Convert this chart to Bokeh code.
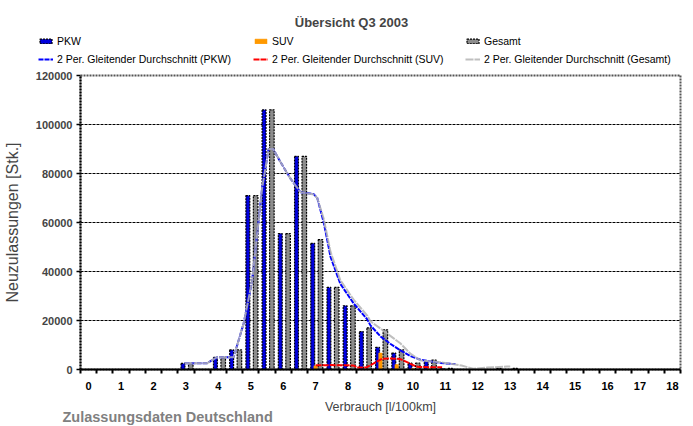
from bokeh.plotting import figure
from bokeh.models import FixedTicker, Label, Legend, LegendItem, ColumnDataSource, Title, Range1d
from bokeh.transform import dodge
from bokeh.layouts import column
from bokeh.embed import file_html
from bokeh.resources import INLINE

# ---- data ----
categories = [0, 0.5, 1, 1.5, 2, 2.5, 3, 3.5, 4, 4.5, 5, 5.5, 6, 6.5, 7, 7.5, 8, 8.5,
              9, 9.5, 10, 10.5, 11, 11.5, 12, 12.5, 13, 13.5, 14, 14.5, 15, 15.5,
              16, 16.5, 17, 17.5, 18]
pkw = [0, 0, 0, 0, 0, 0, 2500, 0, 5000, 8000, 71000, 106000, 55500, 87000, 51500,
       33500, 26000, 15500, 9000, 6700, 2600, 3300, 300, 0, 0, 0, 0, 0, 0, 0, 0, 0,
       0, 0, 0, 0, 0]
suv = [0, 0, 0, 0, 0, 0, 0, 0, 0, 0, 0, 0, 0, 0, 1500, 0, 0, 0, 6700, 2000, 400,
       300, 0, 0, 0, 0, 0, 0, 0, 0, 0, 0, 0, 0, 0, 0, 0]
gesamt = [0, 0, 0, 0, 0, 0, 2500, 0, 5000, 8000, 71000, 106000, 55500, 87000, 53000,
          33500, 26000, 17000, 16200, 8000, 2600, 3800, 500, 0, 0, 500, 500, 0, 0, 0,
          0, 0, 0, 0, 0, 0, 0]

# 2-period moving averages
ma_pkw_x = [2.96, 3.66, 3.96, 4.47, 4.78, 5.04, 5.35, 5.55, 5.69, 5.92, 6.22, 6.53,
            6.94, 7.05, 7.25, 7.46, 7.76, 8.17, 8.59, 8.69, 9.0, 9.3, 9.61, 9.92,
            10.23, 10.85, 11.16, 11.31]
ma_pkw_y = [2600, 2600, 5000, 5000, 18800, 36000, 74000, 90000, 90000, 84600, 78000,
            72400, 71600, 70000, 60000, 46000, 35000, 27000, 20500, 18000, 13500,
            10500, 7800, 5500, 4000, 2700, 2300, 2200]
ma_suv_x = [7.0, 7.5, 8.0, 8.17, 8.3, 8.55, 8.78, 9.05, 9.3, 9.6, 9.82, 10.08, 10.2,
            10.9]
ma_suv_y = [1700, 1800, 1700, 1600, 800, 800, 2400, 4400, 4500, 4300, 3000, 1300,
            1000, 900]
ma_ges_x = [2.96, 3.66, 3.96, 4.47, 4.78, 5.04, 5.35, 5.55, 5.69, 5.92, 6.22, 6.53,
            6.94, 7.05, 7.25, 7.46, 7.76, 8.17, 8.59, 8.69, 9.0, 9.61, 9.92, 10.23,
            10.85, 11.31, 11.5, 11.86, 12.29, 12.9, 13.0]
ma_ges_y = [2600, 2600, 5000, 5000, 18800, 36000, 74000, 90000, 90000, 84600, 78000,
            72400, 71400, 70000, 61500, 48000, 36500, 28500, 22000, 19700, 16700,
            10700, 6500, 3700, 3000, 2000, 1600, 300, 800, 1200, 1200]

x_ticks = list(range(0, 19))
y_ticks = [0, 20000, 40000, 60000, 80000, 100000, 120000]
y_tick_labels = ["0", "20000", "40000", "60000", "80000", "100000", "120000"]

FONT = "Liberation Sans"

PKW_STYLE = dict(fill_color="#0000DD", line_color="black", line_width=1.2, line_dash="2 1")
SUV_STYLE = dict(fill_color="#FF9900", line_color="#FF9900", line_width=0.5)
GES_STYLE = dict(fill_color="#8C8C8C", line_color="black", line_width=1.2, line_dash="2 1")
MA_PKW_STYLE = dict(line_color="#0000FF", line_width=2, line_dash="5 1")
MA_SUV_STYLE = dict(line_color="#FF0000", line_width=2, line_dash="6 1")
MA_GES_STYLE = dict(line_color="#B4B4B4", line_width=2, line_alpha=0.85, line_dash="8 1")

W = 693
HH = 70          # header height
MH = 426 - HH    # main chart height

# ---------------- header: title + legend ----------------
header = figure(width=W, height=HH, x_range=Range1d(0, W), y_range=Range1d(HH, 0),
                output_backend="svg", toolbar_location=None,
                x_axis_location=None, y_axis_location=None,
                min_border=0, min_border_left=0, min_border_right=0,
                min_border_top=0, min_border_bottom=0)
header.frame_align = False
header.outline_line_color = None
header.grid.visible = False
header.background_fill_color = "white"
header.border_fill_color = "white"

hsrc = ColumnDataSource(dict(cat=categories, pkw=pkw, suv=suv, ges=gesamt))
h_pkw = header.vbar(x="cat", top="pkw", width=0.1, source=hsrc, visible=False, **PKW_STYLE)
h_suv = header.vbar(x="cat", top="suv", width=0.1, source=hsrc, visible=False, **SUV_STYLE)
h_ges = header.vbar(x="cat", top="ges", width=0.1, source=hsrc, visible=False, **GES_STYLE)
h_mpkw = header.line(ma_pkw_x, ma_pkw_y, visible=False, **MA_PKW_STYLE)
h_msuv = header.line(ma_suv_x, ma_suv_y, visible=False, **MA_SUV_STYLE)
h_mges = header.line(ma_ges_x, ma_ges_y, visible=False, **MA_GES_STYLE)

def make_legend(items, loc):
    lg = Legend(items=items, location=loc, orientation="vertical",
                border_line_color=None, background_fill_alpha=0, padding=0, margin=0,
                spacing=6, glyph_width=15, glyph_height=6, label_standoff=4,
                label_height=10, label_text_font=FONT, label_text_font_size="10.5px",
                label_text_color="black", inactive_fill_alpha=0)
    header.add_layout(lg)

make_legend([LegendItem(label="PKW", renderers=[h_pkw]),
             LegendItem(label="2 Per. Gleitender Durchschnitt (PKW)", renderers=[h_mpkw])],
            (38, 5))
make_legend([LegendItem(label="SUV", renderers=[h_suv]),
             LegendItem(label="2 Per. Gleitender Durchschnitt (SUV)", renderers=[h_msuv])],
            (253, 5))
make_legend([LegendItem(label="Gesamt", renderers=[h_ges]),
             LegendItem(label="2 Per. Gleitender Durchschnitt (Gesamt)", renderers=[h_mges])],
            (465, 5))

header.add_layout(Label(x=351, y=22, text="Übersicht Q3 2003", text_font=FONT,
                        text_font_style="bold", text_font_size="13px",
                        text_align="center", text_baseline="middle"))

# ---------------- main chart ----------------
p = figure(width=W, height=MH, x_range=(-0.25, 18.25), y_range=(0, 120000),
           output_backend="svg", toolbar_location=None,
           min_border_left=80, min_border_right=13, min_border_top=75 - HH,
           min_border_bottom=57)
p.frame_align = False
p.background_fill_color = "white"
p.border_fill_color = "white"
p.outline_line_color = "#555555"
p.outline_line_dash = "2 1"
p.outline_line_width = 2

src = ColumnDataSource(dict(cat=categories, pkw=pkw, suv=suv, ges=gesamt))

p.vbar(x=dodge("cat", -0.09, range=p.x_range), top="pkw", width=0.12, source=src, **PKW_STYLE)
p.vbar(x=dodge("cat", 0.0, range=p.x_range), top="suv", width=0.11, source=src, **SUV_STYLE)
p.vbar(x=dodge("cat", 0.15, range=p.x_range), top="ges", width=0.14, source=src, **GES_STYLE)

p.line(ma_pkw_x, ma_pkw_y, **MA_PKW_STYLE)
p.line(ma_suv_x, ma_suv_y, **MA_SUV_STYLE)
p.line(ma_ges_x, ma_ges_y, **MA_GES_STYLE)

p.xgrid.visible = False
p.ygrid.grid_line_color = "black"
p.ygrid.grid_line_dash = "3 1"
p.ygrid.grid_line_width = 1

p.xaxis.ticker = FixedTicker(ticks=x_ticks,
                             minor_ticks=[-0.25 + 0.5 * i for i in range(38)])
p.xaxis.major_tick_out = 0
p.xaxis.major_tick_in = 0
p.xaxis.minor_tick_out = 4
p.xaxis.minor_tick_in = 0
p.xaxis.minor_tick_line_width = 2
p.xaxis.minor_tick_line_color = "black"
p.xaxis.axis_line_width = 2
p.xaxis.axis_line_color = "black"
p.xaxis.major_label_standoff = 8
p.xaxis.major_label_text_font = FONT
p.xaxis.major_label_text_font_style = "bold"
p.xaxis.major_label_text_font_size = "11px"
p.xaxis.major_label_text_color = "black"
p.xaxis.axis_label = "Verbrauch [l/100km]"
p.xaxis.axis_label_text_font = FONT
p.xaxis.axis_label_text_font_style = "normal"
p.xaxis.axis_label_text_font_size = "12.5px"
p.xaxis.axis_label_standoff = 7

p.yaxis.ticker = FixedTicker(ticks=y_ticks)
p.yaxis.major_label_overrides = {t: s for t, s in zip(y_ticks, y_tick_labels)}
p.yaxis.minor_tick_line_color = None
p.yaxis.major_tick_out = 4
p.yaxis.major_tick_in = 0
p.yaxis.major_tick_line_width = 1.5
p.yaxis.axis_line_width = 2
p.yaxis.axis_line_dash = "2 1"
p.yaxis.axis_line_color = "black"
p.yaxis.major_label_standoff = 4
p.yaxis.major_label_text_font = FONT
p.yaxis.major_label_text_font_style = "bold"
p.yaxis.major_label_text_font_size = "11px"
p.yaxis.axis_label = "Neuzulassungen [Stk.]"
p.yaxis.axis_label_text_font = FONT
p.yaxis.axis_label_text_font_style = "normal"
p.yaxis.axis_label_text_font_size = "16px"
p.yaxis.axis_label_standoff = 12

p.add_layout(Title(text="Zulassungsdaten Deutschland", align="left", offset=-18,
                   standoff=-17, vertical_align="middle", text_font=FONT,
                   text_font_style="bold", text_font_size="14.5px",
                   text_color="#808080"), "below")

layout = column(header, p, spacing=0)
open("out.html", "w").write(file_html(layout, INLINE))
